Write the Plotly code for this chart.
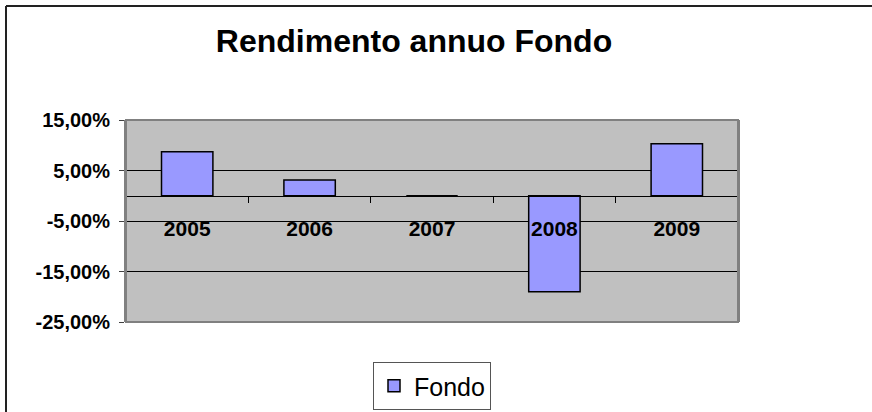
import plotly.graph_objects as go

years = ["2005", "2006", "2007", "2008", "2009"]
returns = [0.087, 0.031, 0.0, -0.190, 0.103]
series_name = "Fondo"
title_text = "Rendimento annuo Fondo"
y_range = [-0.25, 0.15]
y_ticks = [-0.25, -0.15, -0.05, 0.05, 0.15]
y_ticktext = ["-25,00%", "-15,00%", "-5,00%", "5,00%", "15,00%"]

W, H = 872, 412
L, R, T, B = 126, 134, 120, 90
pw, ph = W - L - R, H - T - B


def px_x(p):
    return (p - L) / pw


def px_y(p):
    return (H - B - p) / ph


fig = go.Figure()
fig.add_trace(go.Bar(
    x=years, y=returns, name=series_name,
    marker=dict(color="#9999FF", line=dict(color="#000000", width=1.5)),
    showlegend=True,
))

zero_pos = (0 - y_range[0]) / (y_range[1] - y_range[0])
FONT = "Liberation Sans, Arial, sans-serif"

fig.update_layout(
    width=W, height=H,
    margin=dict(l=L, r=R, t=T, b=B, autoexpand=False),
    paper_bgcolor="white",
    plot_bgcolor="#C0C0C0",
    separators=",.",
    bargap=0.58,
    font=dict(family=FONT, color="black"),
    title=dict(
        text="<b>" + title_text + "</b>",
        font=dict(size=32, family=FONT, color="black"),
        x=px_x(414), xref="paper", xanchor="center",
        y=1 - 41 / H, yref="container", yanchor="middle",
    ),
    xaxis=dict(
        type="category",
        anchor="free", position=zero_pos,
        showline=True, linecolor="black", linewidth=1,
        ticks="outside", tickson="boundaries", ticklen=6, tickcolor="black", tickwidth=1,
        tickfont=dict(size=21, family=FONT, color="black", weight="bold"),
        ticklabelstandoff=14,
        showgrid=False, zeroline=False,
    ),
    yaxis=dict(
        range=y_range,
        tickvals=y_ticks,
        ticktext=y_ticktext,
        showgrid=True, gridcolor="#000000", gridwidth=1,
        zeroline=False,
        showline=True, linecolor="#808080", linewidth=2, mirror=True,
        ticks="outside", ticklen=5, tickcolor="#404040", tickwidth=1,
        tickfont=dict(size=20, family=FONT, color="black", weight="bold"),
        ticklabelstandoff=5,
    ),
    legend=dict(
        x=px_x(373), y=px_y(362), xanchor="left", yanchor="top",
        bordercolor="#555555", borderwidth=1, bgcolor="white",
        font=dict(size=25, family=FONT, color="black"),
        itemwidth=30,
    ),
    shapes=[
        dict(type="rect", xref="paper", yref="paper",
             x0=0, x1=1, y0=0, y1=1,
             line=dict(color="#808080", width=2), layer="above"),
        dict(type="line", xref="paper", yref="paper",
             x0=px_x(6), x1=px_x(W + 10), y0=px_y(6), y1=px_y(6),
             line=dict(color="#222222", width=2)),
        dict(type="line", xref="paper", yref="paper",
             x0=px_x(6), x1=px_x(6), y0=px_y(6), y1=px_y(H + 10),
             line=dict(color="#222222", width=2)),
    ],
)

fig.write_html(
    "out.html",
    config={"displayModeBar": False},
    post_script="document.body.style.margin='0';document.body.style.overflow='hidden';",
)
